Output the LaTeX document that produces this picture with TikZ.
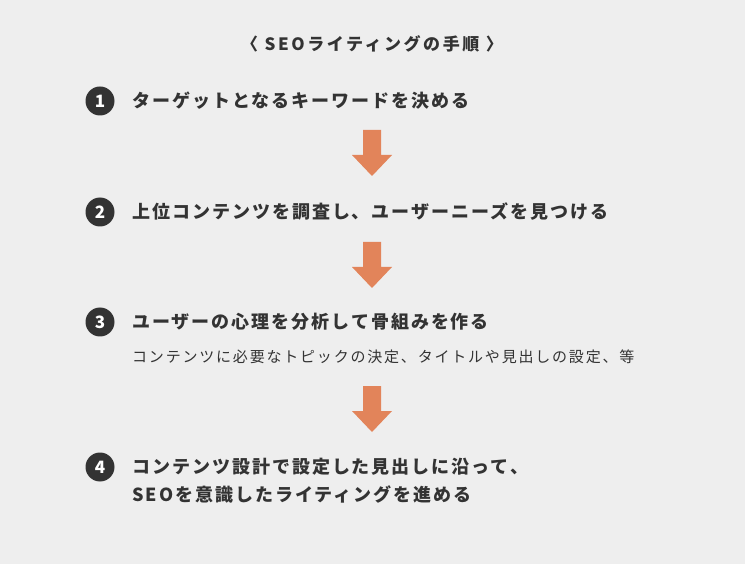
\documentclass[tikz,border=0pt]{standalone}
\usepackage{fontspec}
\setmainfont{Noto Sans CJK JP}
\definecolor{bg}{HTML}{EEEEEE}
\definecolor{num}{HTML}{333333}
\definecolor{arr}{HTML}{E2845A}
\definecolor{txt}{HTML}{333333}
\begin{document}
\begin{tikzpicture}[x=1pt,y=-1pt,
  numc/.style={circle,fill=num,minimum size=29pt,inner sep=0pt,text=white,font=\fontsize{17}{17}\selectfont\bfseries},
  mtxt/.style={anchor=west,inner sep=0pt,text=txt,font=\fontsize{18}{22}\selectfont\bfseries\addfontfeatures{LetterSpace=11}},
  stxt/.style={anchor=west,inner sep=0pt,text=txt,font=\fontsize{15}{18}\selectfont\addfontfeatures{LetterSpace=12}},
  downarrow/.style={fill=arr}]
\fill[bg] (0,0) rectangle (745,564);
\useasboundingbox (0,0) rectangle (745,564);
\node[text=txt,font=\fontsize{17}{17}\selectfont\bfseries\addfontfeatures{LetterSpace=15}] (title) at (372,44) {〈 SEOライティングの手順 〉};
\node[numc] (n1) at (100,101) {1};
\node[mtxt] (t1) at (132,101) {ターゲットとなるキーワードを決める};
\node[numc] (n2) at (100,212) {2};
\node[mtxt] (t2) at (132,212) {上位コンテンツを調査し、ユーザーニーズを見つける};
\node[numc] (n3) at (100,322) {3};
\node[mtxt] (t3) at (132,322) {ユーザーの心理を分析して骨組みを作る};
\node[stxt] (s3) at (132,357) {コンテンツに必要なトピックの決定、タイトルや見出しの設定、等};
\node[numc] (n4) at (100,467) {4};
\node[mtxt] (t4) at (132,467) {コンテンツ設計で設定した見出しに沿って、};
\node[mtxt] (t4b) at (132,494) {SEOを意識したライティングを進める};
\foreach \y in {130,242,386}{
  \fill[downarrow] (363,\y) -- (381,\y) -- (381,\y+25) -- (392,\y+25) -- (372,\y+46) -- (352,\y+25) -- (363,\y+25) -- cycle;
}
\end{tikzpicture}
\end{document}
